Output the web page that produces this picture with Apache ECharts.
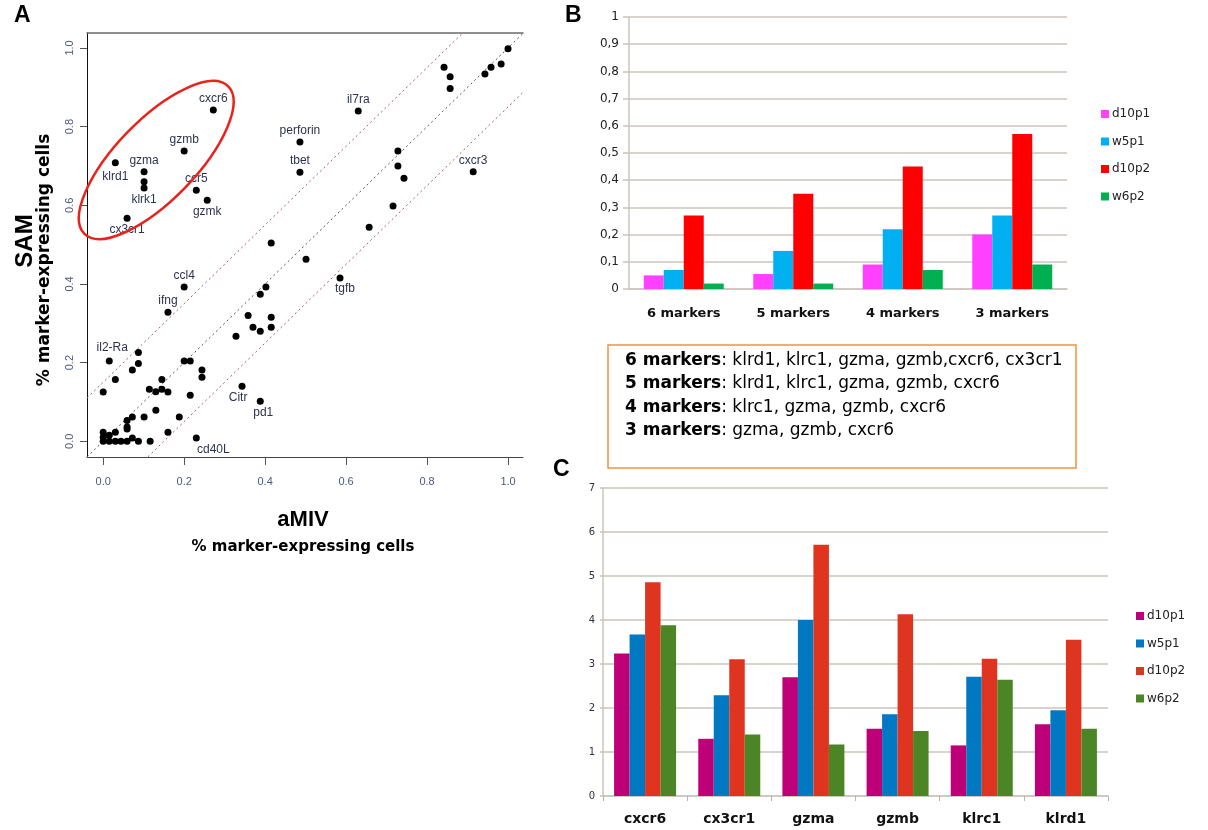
<!DOCTYPE html>
<html>
<head>
<meta charset="utf-8">
<script src="https://cdn.jsdelivr.net/npm/echarts@6/dist/echarts.min.js"></script>
<style>
  html, body { margin: 0; padding: 0; background: #ffffff; }
  #main { width: 1208px; height: 830px; }
</style>
</head>
<body>
<div id="main"></div>
<script>
// ---------- Panel A: fraction of marker-expressing cells, aMIV vs SAM ----------
const labelledGenes = ['cxcr6', 'gzmb', 'gzma', 'klrk1', 'klrd1', 'ccr5', 'gzmk', 'cx3cr1',
  'perforin', 'tbet', 'il7ra', 'cxcr3', 'ccl4', 'ifng', 'il2-Ra', 'Citr', 'pd1', 'cd40L', 'tgfb'];
const labelledAmiv = [0.272, 0.200, 0.101, 0.101, 0.030, 0.230, 0.257, 0.059,
  0.486, 0.486, 0.630, 0.914, 0.200, 0.160, 0.015, 0.343, 0.388, 0.230, 0.585];
const labelledSam = [0.842, 0.738, 0.685, 0.644, 0.708, 0.638, 0.613, 0.567,
  0.761, 0.684, 0.840, 0.685, 0.392, 0.328, 0.204, 0.140, 0.102, 0.008, 0.415];

const otherAmiv = [0.842, 0.857, 0.857, 1.000, 0.958, 0.943, 0.983,
  0.728, 0.728, 0.743, 0.716, 0.657, 0.501,
  0.415, 0.402, 0.388, 0.358, 0.370, 0.388, 0.415, 0.415, 0.328,
  0.200, 0.215, 0.244, 0.244, 0.215,
  0.087, 0.087, 0.072, 0.030, 0.000,
  0.145, 0.114, 0.130, 0.145, 0.160,
  0.130, 0.188, 0.101, 0.072, 0.059, 0.059, 0.059,
  0.160, 0.030, 0.000, 0.015, 0.072, 0.000,
  0.000, 0.015, 0.030, 0.044, 0.059, 0.087, 0.116,
  0.101];
const otherSam = [0.951, 0.927, 0.897, 0.998, 0.951, 0.934, 0.959,
  0.738, 0.700, 0.669, 0.598, 0.544, 0.463,
  0.504, 0.392, 0.374, 0.320, 0.290, 0.280, 0.315, 0.290, 0.267,
  0.204, 0.204, 0.181, 0.163, 0.117,
  0.226, 0.198, 0.181, 0.157, 0.125,
  0.157, 0.132, 0.126, 0.132, 0.125,
  0.079, 0.062, 0.062, 0.062, 0.053, 0.036, 0.031,
  0.023, 0.023, 0.023, 0.015, 0.008, 0.010,
  0.000, 0.000, 0.000, 0.000, 0.000, 0.000, 0.000,
  0.660];

// reference lines y = x + offset
const refOffsets = [0, 0.15, -0.15];
const ticksA = [0, 0.2, 0.4, 0.6, 0.8, 1.0];

// ---------- Panel B: fraction of cells expressing all markers of a set ----------
const markerSets = ['6 markers', '5 markers', '4 markers', '3 markers'];
const sampleNames = ['d10p1', 'w5p1', 'd10p2', 'w6p2'];
const fracD10p1 = [0.05, 0.055, 0.09, 0.20];
const fracW5p1 = [0.07, 0.14, 0.22, 0.27];
const fracD10p2 = [0.27, 0.35, 0.45, 0.57];
const fracW6p2 = [0.02, 0.02, 0.07, 0.09];
const markerSetMembers = [
  'klrd1, klrc1, gzma, gzmb,cxcr6, cx3cr1',
  'klrd1, klrc1, gzma, gzmb, cxcr6',
  'klrc1, gzma, gzmb, cxcr6',
  'gzma, gzmb, cxcr6'
];

// ---------- Panel C: expression per marker ----------
const genesC = ['cxcr6', 'cx3cr1', 'gzma', 'gzmb', 'klrc1', 'klrd1'];
const exprD10p1 = [3.24, 1.30, 2.70, 1.53, 1.15, 1.63];
const exprW5p1 = [3.67, 2.29, 4.00, 1.86, 2.71, 1.95];
const exprD10p2 = [4.86, 3.11, 5.71, 4.13, 3.12, 3.55];
const exprW6p2 = [3.88, 1.40, 1.17, 1.48, 2.64, 1.53];

// ---------- styling ----------
const colorsB = ['#ff40ff', '#00b0f0', '#ff0000', '#00b050'];
const colorsC = ['#be0078', '#0078c2', '#df3420', '#4c8526'];
const excelGrid = '#cbc4bd';
const excelFont = 'DejaVu Sans';
const rFont = 'Liberation Sans';

// where each gene label sits around its point
const labelPlacement = {
  'klrk1': { position: 'bottom' },
  'klrd1': { position: 'bottom', distance: 4 },
  'gzmk': { position: 'bottom' },
  'cx3cr1': { position: 'bottom' },
  'Citr': { position: 'bottom', offset: [-4, 0] },
  'pd1': { position: 'bottom', offset: [3, 0] },
  'cd40L': { position: 'bottom', offset: [17, 0] },
  'tgfb': { position: 'bottom', offset: [5, -1] },
  'il2-Ra': { position: 'top', distance: 4, offset: [3, 0] }
};

const aRange = { xMin: -0.04, xMax: 1.037, yMin: -0.04, yMax: 1.038 };

const labelledData = labelledGenes.map((g, i) => {
  const p = labelPlacement[g] || { position: 'top' };
  return {
    name: g,
    value: [labelledAmiv[i], labelledSam[i]],
    label: Object.assign({ show: true, formatter: '{b}', distance: 2 }, p)
  };
});
const otherData = otherAmiv.map((x, i) => [x, otherSam[i]]);

const refLineSeries = refOffsets.map(c => ({
  type: 'line',
  xAxisIndex: 0, yAxisIndex: 0,
  data: [[aRange.xMin, aRange.xMin + c], [aRange.xMax, aRange.xMax + c]],
  symbol: 'none',
  clip: true,
  silent: true,
  z: 1,
  lineStyle: { color: c === 0 ? '#555555' : '#b05a5a', width: 1, type: [2, 3] }
}));

const barsB = [fracD10p1, fracW5p1, fracD10p2, fracW6p2].map((vals, i) => ({
  type: 'bar', name: sampleNames[i], xAxisIndex: 2, yAxisIndex: 1,
  data: vals, barWidth: 20, barGap: '0%',
  itemStyle: { color: colorsB[i] }
}));
const barsC = [exprD10p1, exprW5p1, exprD10p2, exprW6p2].map((vals, i) => ({
  type: 'bar', name: sampleNames[i], xAxisIndex: 3, yAxisIndex: 2,
  data: vals, barWidth: 15.5, barGap: '0%',
  itemStyle: { color: colorsC[i] }
}));

const option = {
  animation: false,
  backgroundColor: '#ffffff',
  grid: [
    { left: 87, top: 33, width: 436, height: 424 },
    { left: 629, top: 17, width: 438, height: 272 },
    { left: 603, top: 488, width: 505, height: 308 }
  ],
  xAxis: [
    {
      type: 'value', gridIndex: 0, min: aRange.xMin, max: aRange.xMax,
      axisLine: { show: true, onZero: false, lineStyle: { color: '#444', width: 1 } },
      axisTick: { show: true, customValues: ticksA, length: 8, lineStyle: { color: '#555' } },
      axisLabel: { customValues: ticksA, margin: 19, color: '#4d5a82', fontFamily: rFont, fontSize: 11,
        formatter: v => v.toFixed(1) },
      splitLine: { show: false }
    },
    {
      type: 'value', gridIndex: 0, position: 'top', min: aRange.xMin, max: aRange.xMax,
      axisLine: { show: true, onZero: false, lineStyle: { color: '#6b6b6b', width: 1.5 } },
      axisTick: { show: false }, axisLabel: { show: false }, splitLine: { show: false }
    },
    {
      type: 'category', gridIndex: 1, data: markerSets,
      axisLine: { show: true, lineStyle: { color: excelGrid, width: 1.5 } },
      axisTick: { show: false },
      axisLabel: { margin: 18, color: '#111', fontFamily: excelFont, fontWeight: 'bold', fontSize: 13 }
    },
    {
      type: 'category', gridIndex: 2, data: genesC,
      axisLine: { show: true, lineStyle: { color: excelGrid, width: 1.5 } },
      axisTick: { show: true, length: 5, lineStyle: { color: '#bbb4ad' } },
      axisLabel: { margin: 16, color: '#111', fontFamily: excelFont, fontWeight: 'bold', fontSize: 14 }
    }
  ],
  yAxis: [
    {
      type: 'value', gridIndex: 0, min: aRange.yMin, max: aRange.yMax,
      axisLine: { show: true, onZero: false, lineStyle: { color: '#111', width: 1 } },
      axisTick: { show: true, customValues: ticksA, length: 7, lineStyle: { color: '#555' } },
      axisLabel: { customValues: ticksA, rotate: 90, margin: 12, color: '#4d5a82', fontFamily: rFont, fontSize: 11,
        formatter: v => v.toFixed(1) },
      splitLine: { show: false }
    },
    {
      type: 'value', gridIndex: 1, min: 0, max: 1, interval: 0.1,
      axisLine: { show: true, lineStyle: { color: excelGrid, width: 1.5 } },
      axisTick: { show: true, length: 6, lineStyle: { color: excelGrid, width: 1.5 } },
      axisLabel: { margin: 10, color: '#222', fontFamily: excelFont, fontSize: 12,
        formatter: v => (v === 0 || v === 1) ? String(v) : v.toFixed(1).replace('.', ',') },
      splitLine: { show: true, lineStyle: { color: excelGrid, width: 1.5 } }
    },
    {
      type: 'value', gridIndex: 2, min: 0, max: 7, interval: 1,
      axisLine: { show: true, lineStyle: { color: excelGrid, width: 1.5 } },
      axisTick: { show: true, length: 3, lineStyle: { color: excelGrid, width: 1.5 } },
      axisLabel: { margin: 8, color: '#333', fontFamily: excelFont, fontSize: 10 },
      splitLine: { show: true, lineStyle: { color: excelGrid, width: 1.5 } }
    }
  ],
  legend: [
    {
      orient: 'vertical', left: 1096, top: 103, itemWidth: 8, itemHeight: 8, itemGap: 15.5,
      icon: 'rect', selectedMode: false,
      textStyle: { fontFamily: excelFont, fontSize: 12, color: '#222', padding: [0, 0, 0, -2] },
      data: sampleNames.map((n, i) => ({ name: n, itemStyle: { color: colorsB[i] } }))
    },
    {
      orient: 'vertical', left: 1131, top: 605, itemWidth: 8, itemHeight: 8, itemGap: 15.5,
      icon: 'rect', selectedMode: false,
      textStyle: { fontFamily: excelFont, fontSize: 12, color: '#222', padding: [0, 0, 0, -2] },
      data: sampleNames.map((n, i) => ({ name: n, itemStyle: { color: colorsC[i] } }))
    }
  ],
  series: [
    ...refLineSeries,
    {
      type: 'scatter', name: 'genes', xAxisIndex: 0, yAxisIndex: 0,
      data: otherData, symbolSize: 7, itemStyle: { color: '#000', opacity: 1 }, z: 3
    },
    {
      type: 'scatter', name: 'labelled genes', xAxisIndex: 0, yAxisIndex: 0,
      data: labelledData, symbolSize: 7, itemStyle: { color: '#000', opacity: 1 }, z: 3,
      label: { color: '#2e3350', fontFamily: rFont, fontSize: 12 }
    },
    ...barsB,
    ...barsC
  ]
};

const chart = echarts.init(document.getElementById('main'));
chart.setOption(option);

// annotations: panel letters, axis titles, marker-set box and the highlighted cluster
const ellipseCenter = chart.convertToPixel({ xAxisIndex: 0, yAxisIndex: 0 }, [0.131, 0.715]);
const boxLines = markerSets.map((m, i) => '{b|' + m + '}{n|: ' + markerSetMembers[i] + '}').join('\n');

chart.setOption({
  graphic: [
    { type: 'text', left: 14, top: 4, style: { text: 'A', font: 'bold 23px ' + rFont, fill: '#000' } },
    { type: 'text', left: 565, top: 4, style: { text: 'B', font: 'bold 23px ' + rFont, fill: '#000' } },
    { type: 'text', left: 553, top: 458, style: { text: 'C', font: 'bold 23px ' + rFont, fill: '#000' } },
    { type: 'text', x: 303, y: 520, style: { text: 'aMIV', font: 'bold 22px ' + rFont, fill: '#000', align: 'center', verticalAlign: 'middle' } },
    { type: 'text', x: 303, y: 547, style: { text: '% marker-expressing cells', font: 'bold 15px ' + excelFont, fill: '#000', align: 'center', verticalAlign: 'middle' } },
    { type: 'text', x: 25, y: 241, rotation: Math.PI / 2, style: { text: 'SAM', font: 'bold 24px ' + rFont, fill: '#000', align: 'center', verticalAlign: 'middle' } },
    { type: 'text', x: 45, y: 260, rotation: Math.PI / 2, style: { text: '% marker-expressing cells', font: 'bold 17px ' + excelFont, fill: '#000', align: 'center', verticalAlign: 'middle' } },
    {
      type: 'ellipse', x: ellipseCenter[0], y: ellipseCenter[1], rotation: 0.8,
      shape: { cx: 0, cy: 0, rx: 103, ry: 40 },
      style: { fill: 'none', stroke: '#e8231c', lineWidth: 2.5 }, z: 10
    },
    {
      type: 'rect', shape: { x: 608, y: 345, width: 468, height: 123 },
      style: { fill: 'none', stroke: '#f5913e', lineWidth: 1.5 }
    },
    {
      type: 'text', x: 625, y: 349,
      style: {
        text: boxLines,
        rich: {
          b: { font: 'bold 17px ' + excelFont, fill: '#000', lineHeight: 23.3 },
          n: { font: '17px ' + excelFont, fill: '#000', lineHeight: 23.3 }
        }
      }
    }
  ]
});
</script>
</body>
</html>
